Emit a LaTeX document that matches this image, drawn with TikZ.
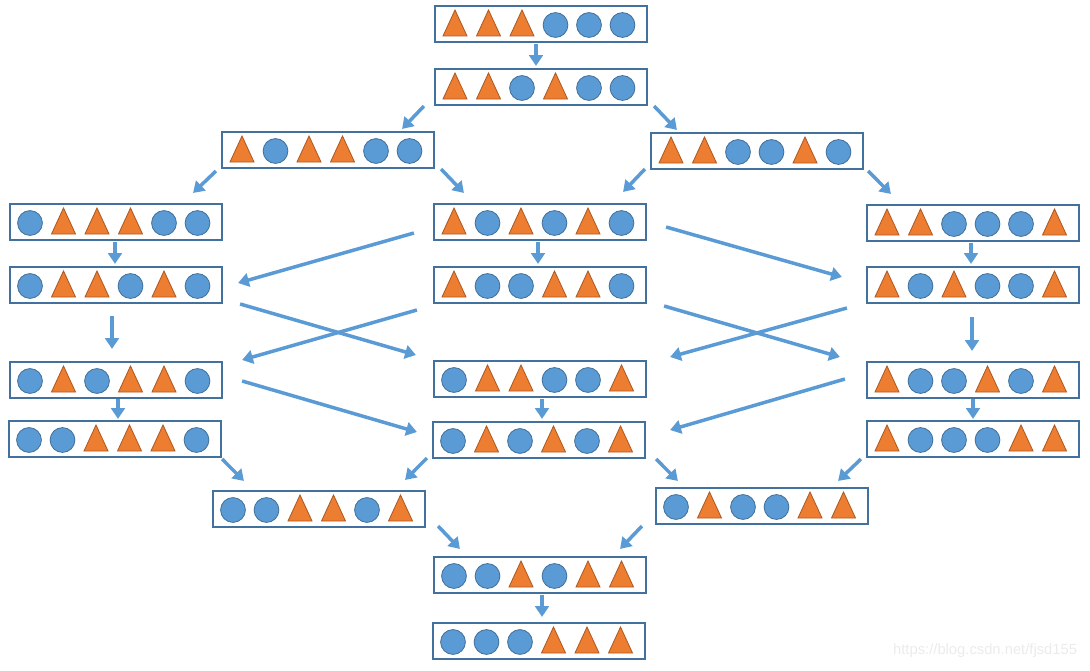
\documentclass[tikz,border=0pt]{standalone}
\usepackage{fontspec}
\setsansfont{Liberation Sans}
\usetikzlibrary{calc,arrows.meta}

\definecolor{boxblue}{HTML}{41719C}
\definecolor{arrowblue}{HTML}{5B9BD5}
\definecolor{triorange}{HTML}{ED7D31}
\definecolor{triedge}{HTML}{AE5A21}

\tikzset{
    seqbox/.style={draw=boxblue, line width=1.5pt, fill=white, minimum width=5.3cm, minimum height=0.9cm, inner sep=0pt},
    arr/.style={draw=arrowblue, line width=2.5pt, -{Triangle[length=0.27cm, width=0.34cm]}},
    tri/.style={fill=triorange, draw=triedge, line width=0.6pt},
    ball/.style={fill=arrowblue, draw=boxblue, line width=0.6pt}
}

% 1 = triangle, 0 = circle
\newcommand{\fillseq}[2]{
    \foreach \s [count=\i] in {#2}
    {
        \ifnum\s=1
            \draw [tri] ($(#1)+(\i*33.5-131.5,12)$) -- ++(24,0) -- ++(-12,-26) -- cycle;
        \else
            \draw [ball] ($(#1)+(\i*33.5-119.5,1)$) circle [radius=0.31cm];
        \fi
    }
}

\begin{document}
\begin{tikzpicture}[x=0.025cm, y=-0.025cm]
    \useasboundingbox (0,0) rectangle (1090,670);

    \node [seqbox] (b0) at (541,24) {};
    \node [seqbox] (b1) at (541,87) {};
    \node [seqbox] (b2l) at (328,150) {};
    \node [seqbox] (b2r) at (757,151) {};
    \node [seqbox] (b3l) at (116,222) {};
    \node [seqbox] (b3m) at (540,222) {};
    \node [seqbox] (b3r) at (973,223) {};
    \node [seqbox] (b4l) at (116,285) {};
    \node [seqbox] (b4m) at (540,285) {};
    \node [seqbox] (b4r) at (973,285) {};
    \node [seqbox] (b5l) at (116,380) {};
    \node [seqbox] (b5m) at (540,379) {};
    \node [seqbox] (b5r) at (973,380) {};
    \node [seqbox] (b6l) at (115,439) {};
    \node [seqbox] (b6m) at (539,440) {};
    \node [seqbox] (b6r) at (973,439) {};
    \node [seqbox] (b7l) at (319,509) {};
    \node [seqbox] (b7r) at (762,506) {};
    \node [seqbox] (b8) at (540,575) {};
    \node [seqbox] (b9) at (539,641) {};

    \fillseq{b0}{1,1,1,0,0,0}
    \fillseq{b1}{1,1,0,1,0,0}
    \fillseq{b2l}{1,0,1,1,0,0}
    \fillseq{b2r}{1,1,0,0,1,0}
    \fillseq{b3l}{0,1,1,1,0,0}
    \fillseq{b3m}{1,0,1,0,1,0}
    \fillseq{b3r}{1,1,0,0,0,1}
    \fillseq{b4l}{0,1,1,0,1,0}
    \fillseq{b4m}{1,0,0,1,1,0}
    \fillseq{b4r}{1,0,1,0,0,1}
    \fillseq{b5l}{0,1,0,1,1,0}
    \fillseq{b5m}{0,1,1,0,0,1}
    \fillseq{b5r}{1,0,0,1,0,1}
    \fillseq{b6l}{0,0,1,1,1,0}
    \fillseq{b6m}{0,1,0,1,0,1}
    \fillseq{b6r}{1,0,0,0,1,1}
    \fillseq{b7l}{0,0,1,1,0,1}
    \fillseq{b7r}{0,1,0,0,1,1}
    \fillseq{b8}{0,0,1,0,1,1}
    \fillseq{b9}{0,0,0,1,1,1}

    % straight down
    \draw [arr] ($(b0.south)+(-5,1)$) -- ($(b1.north)+(-5,-2)$);
    \draw [arr] ($(b3l.south)+(-1,1)$) -- ($(b4l.north)+(-1,-2)$);
    \draw [arr] ($(b3m.south)+(-2,1)$) -- ($(b4m.north)+(-2,-2)$);
    \draw [arr] ($(b3r.south)+(-2,1)$) -- ($(b4r.north)+(-2,-2)$);
    \draw [arr] ($(b4l.south)+(-4,12)$) -- ($(b5l.north)+(-4,-12)$);
    \draw [arr] ($(b4r.south)+(-1,13)$) -- ($(b5r.north)+(-1,-10)$);
    \draw [arr] ($(b5l.south)+(2,0)$) -- ($(b6l.north)+(3,-1)$);
    \draw [arr] ($(b5m.south)+(2,1)$) -- ($(b6m.north)+(3,-2)$);
    \draw [arr] ($(b5r.south)+(0,0)$) -- ($(b6r.north)+(0,-1)$);
    \draw [arr] ($(b8.south)+(2,1)$) -- ($(b9.north)+(3,-5)$);

    % short diagonals
    \draw [arr] ($(b1.south west)+(-10,0)$) -- ($(b2l.north east)+(-33,-2)$);
    \draw [arr] ($(b1.south east)+(6,0)$) -- ($(b2r.north west)+(27,-2)$);
    \draw [arr] ($(b2l.south west)+(-5,2)$) -- ($(b3l.north east)+(-30,-10)$);
    \draw [arr] ($(b2l.south east)+(6,0)$) -- ($(b3m.north west)+(31,-10)$);
    \draw [arr] ($(b2r.south west)+(-5,-1)$) -- ($(b3m.north east)+(-24,-11)$);
    \draw [arr] ($(b2r.south east)+(4,1)$) -- ($(b3r.north west)+(25,-10)$);
    \draw [arr] ($(b6l.south east)+(0,1)$) -- ($(b7l.north west)+(32,-9)$);
    \draw [arr] ($(b6m.south west)+(-5,-1)$) -- ($(b7l.north east)+(-21,-10)$);
    \draw [arr] ($(b6m.south east)+(10,0)$) -- ($(b7r.north west)+(23,-6)$);
    \draw [arr] ($(b6r.south west)+(-5,1)$) -- ($(b7r.north east)+(-31,-6)$);
    \draw [arr] ($(b7l.south east)+(12,-2)$) -- ($(b8.north west)+(27,-7)$);
    \draw [arr] ($(b7r.south west)+(-13,1)$) -- ($(b8.north east)+(-27,-7)$);

    % long crossing ones
    \draw [arr] ($(b3m.west)+(-19,11)$) -- ($(b4l.east)+(15,-2)$);
    \draw [arr] ($(b3m.east)+(19,5)$) -- ($(b4r.west)+(-24,-8)$);
    \draw [arr] ($(b4l.east)+(17,19)$) -- ($(b5m.west)+(-17,-24)$);
    \draw [arr] ($(b4m.west)+(-16,25)$) -- ($(b5l.east)+(19,-20)$);
    \draw [arr] ($(b4m.east)+(17,21)$) -- ($(b5r.west)+(-26,-23)$);
    \draw [arr] ($(b4r.west)+(-19,23)$) -- ($(b5m.east)+(23,-22)$);
    \draw [arr] ($(b5l.east)+(19,1)$) -- ($(b6m.west)+(-15,-8)$);
    \draw [arr] ($(b5r.west)+(-21,-1)$) -- ($(b6m.east)+(24,-10)$);

    \node [text=black!8, font=\sffamily\fontsize{10.5}{12}\selectfont, anchor=east] (mark) at (1082,651) {https://blog.csdn.net/fjsd155};
\end{tikzpicture}
\end{document}
